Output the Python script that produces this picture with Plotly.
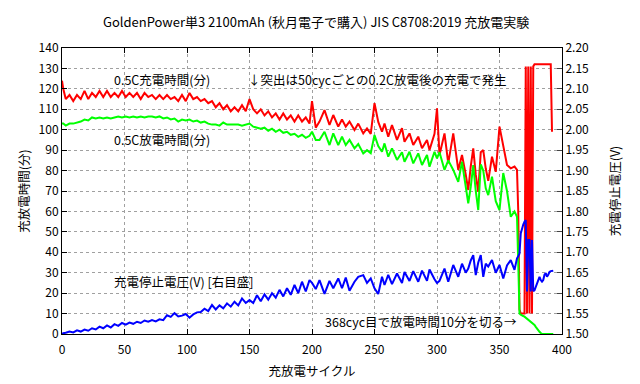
import plotly.graph_objects as go

cycles = [0,1,3,6,9,12,15,18,21,24,27,30,33,36,39,42,45,48,51,54,57,60,63,66,69,72,75,78,81,84,87,90,93,96,99,
          102,105,108,111,114,117,120,123,126,129,132,135,138,141,144,147,150,153,156,159,162,165,168,171,174,177,180,
          183,186,189,192,195,198,200,203,206,210,214,217,221,224,227,230,234,237,241,244,247,250,253,256,258,261,264,
          268,272,274,278,281,285,288,292,294,298,300,302,306,309,313,317,320,323,325,327,329,331,333,335,337,339,341,
          344,347,350,353,356,359,362,364,365,366,367,368,369,370,371,372,373,374,375,376,377,378,379,380,381,382,383,
          384,385,386,387,388,389,390,391,392,393]

charge_min = [124,120,115,117,114,117,115,119,115,118,116,119,116,119,116,118,116,119,116,118,116,118,115,118,116,117,115,117,115,117,115,116,114,117,114,
              118,115,116,114,115,113,114,111,113,110,112,109,111,109,112,109,115,110,108,110,107,109,106,108,105,108,105,
              107,104,107,104,106,103,114,101,104,109.6,102.3,107.2,101.5,105,101.5,104,99.8,103,98.2,100.6,98,113,103.8,99,103,96.6,102.3,
              95,100.8,94.1,98.2,92.5,96.6,90.9,95,90.1,98,110.5,87.6,98.2,83.5,98.2,80.3,87.6,78,70.5,82,90.9,78,69.6,89,90,81,75,
              86.8,79.4,101.5,91.7,82.7,81.1,82,80.3,60,12,10,10,10,10,131,10,131,10,131,10,131,132,132,132,132,132,132,
              132,132,132,132,132,132,132,132,99,None]

discharge_min = [103,103,102,103,103,103.5,104,105,104.5,106,105.5,106,105.5,106,105.5,106,106.5,106,106.5,106,106.5,106,106.5,106,106.5,106.5,106,106.5,105.5,106,105,105.5,104,105,104.5,
                 105,104,104.5,103.5,104,103,102.5,102.5,102,103.5,102.5,102.5,102.5,102.5,102,102.5,103,101.5,101,100.5,101,99.5,100.5,99,100,98.5,99,
                 97.5,98,96.5,97.5,96,97,99,95,95,99,92.5,98.2,92.5,96.6,92.5,95,90.9,93,88.4,90,88.5,97.4,92,89.2,93.3,86.8,90.9,
                 85.2,89,84.3,89.2,83.5,88.4,82.7,87.6,81.9,89.2,86,89,80.3,85,80.3,74.5,84.3,72,64,72,82.7,70,60.7,83,80,71.3,68,
                 77,65,60.7,78.8,70,57.4,60,57.4,35,10,9.5,9,8.8,8.5,8,7.5,7,6.5,6,5.5,5,4.4,3.5,2.5,1.5,1.1,0.5,
                 0,0,0,0,0,0,0,0,0,0]

stop_voltage = [1.500,1.502,1.503,1.506,1.504,1.509,1.506,1.511,1.508,1.514,1.511,1.518,1.514,1.521,1.516,1.524,1.520,1.527,1.523,1.528,1.525,1.530,1.527,1.533,1.530,1.534,1.531,1.536,1.534,1.546,1.542,1.551,1.543,1.545,1.549,
                1.540,1.548,1.553,1.554,1.562,1.556,1.571,1.560,1.570,1.563,1.575,1.567,1.579,1.570,1.587,1.576,1.583,1.576,1.595,1.580,1.597,1.584,1.600,1.589,1.608,1.592,1.612,
                1.596,1.620,1.600,1.628,1.604,1.632,1.625,1.610,1.632,1.598,1.630,1.612,1.636,1.612,1.638,1.606,1.628,1.640,1.644,1.625,1.636,1.612,1.598,1.640,1.620,1.645,1.622,
                1.648,1.625,1.652,1.630,1.654,1.628,1.655,1.630,1.658,1.634,1.625,1.630,1.660,1.628,1.669,1.640,1.672,1.650,1.660,1.680,1.693,1.644,1.675,1.693,1.640,1.672,1.665,
                1.681,1.650,1.669,1.636,1.668,1.681,1.657,1.685,1.690,1.697,1.746,1.760,1.768,1.775,1.779,1.604,1.730,1.730,1.604,1.730,1.605,1.607,1.615,1.625,1.632,1.640,1.632,
                1.628,1.632,1.645,1.649,1.640,1.645,1.652,1.654,1.654,1.655]

x_ticks = [0, 50, 100, 150, 200, 250, 300, 350, 400]
y_ticks = [0, 10, 20, 30, 40, 50, 60, 70, 80, 90, 100, 110, 120, 130, 140]
y2_ticks = [1.50, 1.55, 1.60, 1.65, 1.70, 1.75, 1.80, 1.85, 1.90, 1.95, 2.00, 2.05, 2.10, 2.15, 2.20]

FONT = "Noto Sans CJK JP"

fig = go.Figure()
fig.add_trace(go.Scatter(x=cycles, y=charge_min, mode="lines", line=dict(color="#ff0000", width=2),
                         name="0.5C充電時間(分)", connectgaps=False))
fig.add_trace(go.Scatter(x=cycles, y=discharge_min, mode="lines", line=dict(color="#00ff00", width=2),
                         name="0.5C放電時間(分)"))
fig.add_trace(go.Scatter(x=cycles, y=stop_voltage, mode="lines", line=dict(color="#0000ff", width=2),
                         name="充電停止電圧(V)", yaxis="y2"))

axis_common = dict(showline=True, linecolor="black", linewidth=1, ticks="inside", ticklen=5,
                   tickcolor="black", showgrid=True, gridcolor="#a0a0a0", griddash="dot", gridwidth=1,
                   zeroline=False, automargin=False, tickfont=dict(family=FONT, size=12, color="black"))

fig.update_layout(
    width=640, height=384,
    margin=dict(l=62, r=78, t=48, b=50, autoexpand=False),
    paper_bgcolor="white", plot_bgcolor="white",
    showlegend=False,
    font=dict(family=FONT, size=12, color="black"),
    title=dict(text="GoldenPower単3 2100mAh (秋月電子で購入) JIS C8708:2019 充放電実験",
               x=0.494, xanchor="center", y=1 - 22/384, yanchor="middle",
               font=dict(family=FONT, size=13, color="black")),
    xaxis=dict(range=[0, 400], tickvals=x_ticks, mirror="ticks", ticklabelstandoff=5,
               title=dict(text="充放電サイクル", font=dict(family=FONT, size=12.5), standoff=10), **axis_common),
    yaxis=dict(range=[0, 140], tickvals=y_ticks, mirror=True,
               title=dict(text="充放電時間(分)", font=dict(family=FONT, size=12.5), standoff=6), **axis_common),
    yaxis2=dict(range=[1.5, 2.2], tickvals=y2_ticks, ticktext=[f"{v:.2f}" for v in y2_ticks],
                overlaying="y", side="right", showline=True, linecolor="black", ticks="inside", ticklen=5,
                showgrid=False, zeroline=False, automargin=False,
                tickfont=dict(family=FONT, size=12, color="black"),
                title=dict(text="充電停止電圧(V)", font=dict(family=FONT, size=12.5), standoff=23)),
)

notes = [
    (40, 124.8, "0.5C充電時間(分)"),
    (147, 124.8, "↓突出は50cycごとの0.2C放電後の充電で発生"),
    (40, 95, "0.5C放電時間(分)"),
    (40, 25.5, "充電停止電圧(V) [右目盛]"),
    (209, 5.9, "368cyc目で放電時間10分を切る→"),
]
for nx, ny, t in notes:
    fig.add_annotation(x=nx, y=ny, xref="x", yref="y", text=t, showarrow=False,
                       xanchor="left", yanchor="middle", font=dict(family=FONT, size=12.5, color="black"))

fig.write_html("out.html", config={"displayModeBar": False},
               post_script="document.body.style.margin='0px';")
